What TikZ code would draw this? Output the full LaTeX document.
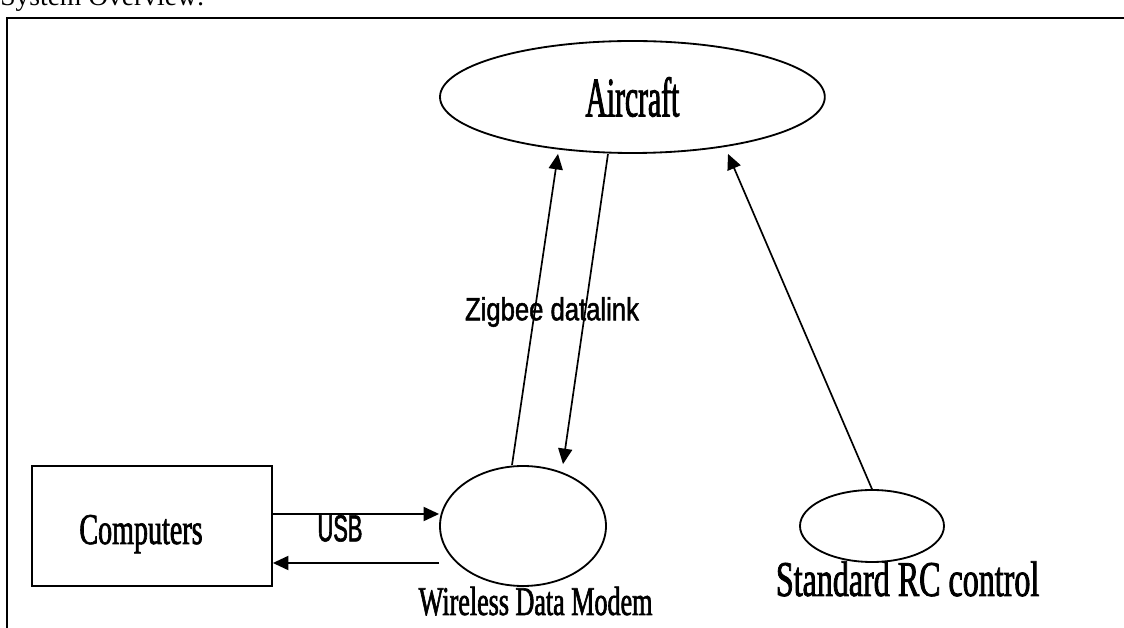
\documentclass[tikz,border=0pt]{standalone}
\usepackage{fontspec}
\setmainfont{Liberation Serif}
\newfontfamily\nameserif[FakeStretch=0.64, FakeBold=1.5]{Liberation Serif}
\newfontfamily\bigserif[FakeStretch=0.53, FakeBold=1.5]{Liberation Serif}
\newfontfamily\usbsans[FakeStretch=0.58, FakeBold=1.5]{Liberation Sans}
\newfontfamily\linksans[FakeStretch=0.8, FakeBold=1.5]{Liberation Sans}
\usetikzlibrary{positioning,arrows.meta,shapes.geometric}
\tikzset{
  flowarrow/.style={-{Triangle[length=11pt, width=10pt]}, line width=1.2pt},
  bubble/.style={draw, ellipse, line width=1.3pt, inner sep=0pt},
  pcbox/.style={draw, rectangle, line width=1.3pt, minimum width=6cm, minimum height=3cm, inner sep=0pt},
  framebox/.style={draw, line width=1.5pt},
  headtext/.style={font=\fontsize{19.6}{22}\selectfont, anchor=base west, inner sep=0pt},
  namelabel/.style={anchor=base, inner sep=0pt},
  usblabel/.style={font=\usbsans\fontsize{26.8}{30}\selectfont, inner sep=0pt},
  linklabel/.style={font=\linksans\fontsize{22.8}{26}\selectfont, inner sep=0pt}
}

\begin{document}
\begin{tikzpicture}
  \useasboundingbox (0,0) rectangle (28.1,15.7);
  \node[headtext] (title) at (0,15.55) {System Overview:};
  \draw[framebox] (0.175,-0.5) rectangle (28.6,15.25);

  \node[bubble, minimum width=9.62cm, minimum height=2.8cm, font=\bigserif\fontsize{39.8}{44}\selectfont] (aircraft) at (15.81,13.275) {Aircraft};
  \node[bubble, minimum width=4.15cm, minimum height=3cm] (modem) at (13.075,2.55) {};
  \node[bubble, minimum width=3.6cm, minimum height=1.8cm] (rc) at (21.8,2.55) {};
  \node[pcbox] (computers) at (3.8,2.55) {};
  \node[namelabel, font=\nameserif\fontsize{31.2}{34}\selectfont] (pcname) at (3.525,2.1) {Computers};

  \node[namelabel, font=\nameserif\fontsize{29}{32}\selectfont] (modemname) at (13.39,0.325) {Wireless Data Modem};
  \node[namelabel, font=\nameserif\fontsize{35.6}{40}\selectfont] (rcname) at (22.69,0.8) {Standard RC control};

  \draw[flowarrow] ([yshift=3mm]computers.east) -- ([yshift=3mm]modem.west);
  \draw[flowarrow] ([yshift=-9.25mm]modem.west) -- ([yshift=-9.25mm]computers.east);
  \node[usblabel] (usb) at (8.5,2.49) {USB};

  \draw[flowarrow] ([xshift=-2.75mm]modem.north) -- ([xshift=-18.6mm]aircraft.south);
  \draw[flowarrow] ([xshift=-6.1mm]aircraft.south) -- ([xshift=10mm,yshift=0.25mm]modem.north);
  \node[linklabel] (zigbee) at (13.8,7.9) {Zigbee datalink};

  \draw[flowarrow] (rc.north) -- ([xshift=23.9mm]aircraft.south);
\end{tikzpicture}
\end{document}
